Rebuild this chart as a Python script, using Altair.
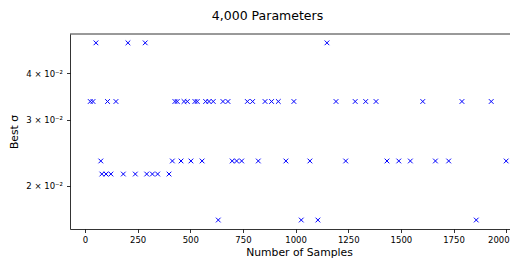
import altair as alt
import pandas as pd

# Best sigma levels (log scale) and the sample counts at which each occurs
sigma_levels = [0.0482, 0.0336, 0.0233, 0.0215, 0.0162]
samples_top = [52, 204, 286, 1149]
samples_upper = [25, 38, 107, 147, 427, 438, 470, 486, 522, 533, 573, 589, 609,
                 655, 679, 771, 796, 855, 886, 918, 992, 1192, 1283, 1333, 1382,
                 1604, 1790, 1929]
samples_mid = [75, 415, 456, 503, 556, 699, 720, 744, 823, 954, 1068, 1238, 1434,
               1490, 1545, 1664, 1727, 2000]
samples_low = [80, 100, 123, 182, 239, 293, 320, 345, 399]
samples_bottom = [633, 1027, 1106, 1858]

x_ticks = [0, 250, 500, 750, 1000, 1250, 1500, 1750, 2000]
y_ticks = [0.02, 0.03, 0.04]

groups = [samples_top, samples_upper, samples_mid, samples_low, samples_bottom]
rows = []
for lvl, xs in zip(sigma_levels, groups):
    for s in xs:
        rows.append({"samples": s, "sigma": lvl})
df = pd.DataFrame(rows)

W, H = 440, 195

points = alt.Chart(df).mark_point(
    shape="M-1,-1L1,1M-1,1L1,-1", filled=False, size=22,
    color="#0000ff", strokeWidth=1, opacity=1
).encode(
    x=alt.X("samples:Q",
            scale=alt.Scale(domain=[-71.2, 2018.2], nice=False, zero=False),
            axis=alt.Axis(values=x_ticks, format="d", title="Number of Samples",
                          titleX=229, titleY=23, titleBaseline="middle",
                          labelPadding=3,
                          labelAlign={"condition": {"test": "datum.value == 2000",
                                                    "value": "right"},
                                      "value": "center"},
                          labelOffset={"condition": {"test": "datum.value == 2000",
                                                     "value": 3},
                                       "value": 0})),
    y=alt.Y("sigma:Q",
            scale=alt.Scale(type="log", domain=[0.01533, 0.0509], nice=False),
            axis=alt.Axis(values=y_ticks,
                          labelExpr="round(datum.value*100) + ' × 10⁻²'",
                          title="Best σ", titleX=-56, titleY=H / 2,
                          titleAngle=270, titleBaseline="middle",
                          titleAlign="center", labelPadding=4)),
)

spine = alt.Chart(pd.DataFrame({"a": [0]})).mark_rule(
    color="black", strokeWidth=0.8
).encode(x=alt.value(0), x2=alt.value(W), y=alt.value(0))

chart = alt.layer(points, spine).properties(
    width=W, height=H,
    autosize=alt.AutoSizeParams(type="none"),
    padding={"left": 62, "top": 26, "right": 0, "bottom": 29},
    title=alt.TitleParams("4,000 Parameters", fontSize=12.5, font="DejaVu Sans",
                          fontWeight="normal", color="black", anchor="middle",
                          dx=-22.5, offset=1.5, baseline="alphabetic"),
).configure_view(stroke=None).configure_axis(
    grid=False, domainColor="black", tickColor="black", domainWidth=0.8,
    tickWidth=0.8, tickSize=3.5, labelFont="DejaVu Sans", labelFontSize=8.5,
    labelColor="black", titleFont="DejaVu Sans", titleFontSize=10.8,
    titleFontWeight="normal", titleColor="black"
)

chart.save("out.html", embed_options={"renderer": "svg", "actions": False})
